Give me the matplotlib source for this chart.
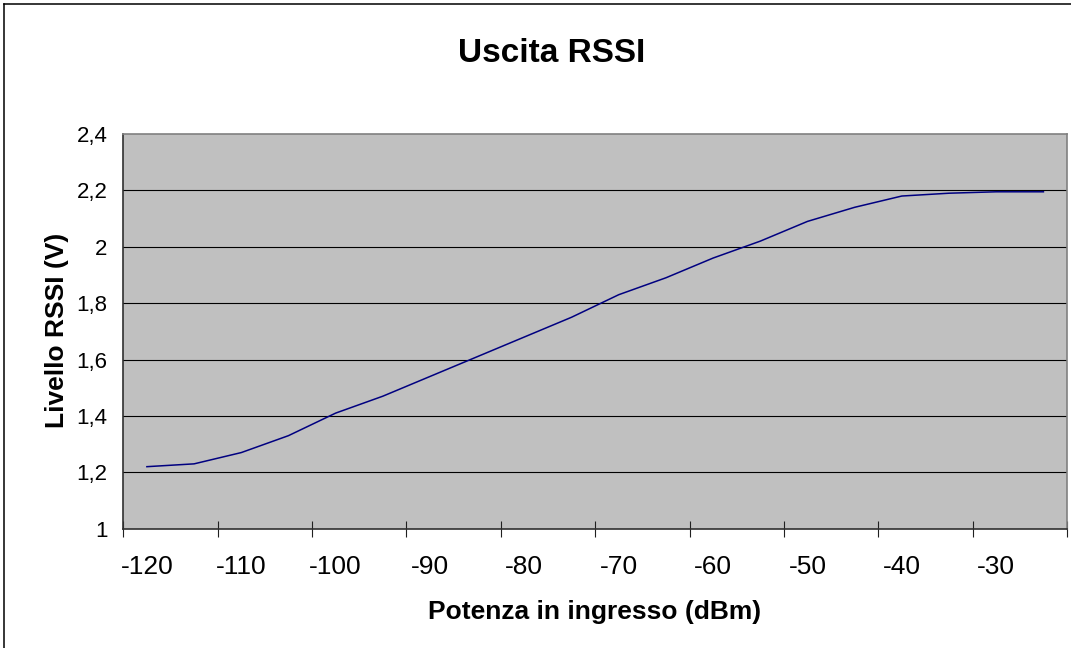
import matplotlib
matplotlib.use("Agg")
import matplotlib.pyplot as plt
from matplotlib.lines import Line2D
import numpy as np

plt.rcParams['font.family'] = ['Liberation Sans', 'DejaVu Sans']

power_dbm = [-120, -115, -110, -105, -100, -95, -90, -85, -80, -75,
             -70, -65, -60, -55, -50, -45, -40, -35, -30, -25]
rssi_v = [1.22, 1.23, 1.27, 1.33, 1.41, 1.47, 1.54, 1.61, 1.68, 1.75,
          1.83, 1.89, 1.96, 2.02, 2.09, 2.14, 2.18, 2.19, 2.195, 2.195]
x_tick_values = [-120, -110, -100, -90, -80, -70, -60, -50, -40, -30]
y_tick_values = [1.0, 1.2, 1.4, 1.6, 1.8, 2.0, 2.2, 2.4]
y_tick_labels = ["1", "1,2", "1,4", "1,6", "1,8", "2", "2,2", "2,4"]

W, H = 1071, 648
fig = plt.figure(figsize=(W / 100, H / 100), dpi=100)
fig.patch.set_facecolor('white')

ax = fig.add_axes([123.3 / W, 1 - 528.7 / H, (1067 - 123.3) / W, (528.7 - 134) / H])
ax.set_facecolor('#C0C0C0')

# horizontal gridlines (interior only)
for yv in y_tick_values[1:-1]:
    ax.axhline(yv, color='black', linewidth=0.8, zorder=1)

ax.plot(power_dbm, rssi_v, color='#000080', linewidth=1.1, zorder=3)

step = power_dbm[1] - power_dbm[0]
ax.set_xlim(power_dbm[0] - step / 2, power_dbm[-1] + step / 2)
ax.set_ylim(y_tick_values[0], y_tick_values[-1])

ax.set_yticks(y_tick_values)
ax.set_yticklabels(y_tick_labels, fontsize=16)
ax.tick_params(axis='y', length=0, pad=11.5)

ax.set_xticks(x_tick_values)
ax.set_xticklabels([str(v) for v in x_tick_values], fontsize=19)
ax.tick_params(axis='x', which='major', length=0, pad=19)
boundaries = np.arange(power_dbm[0] - step / 2, power_dbm[-1] + step, 2 * step)
ax.set_xticks(boundaries, minor=True)
ax.tick_params(axis='x', which='minor', direction='inout', length=12, width=0.8, color='#202020')

for s in ['left', 'bottom']:
    ax.spines[s].set_color('#303030')
    ax.spines[s].set_linewidth(1.2)
for s in ['top', 'right']:
    ax.spines[s].set_color('#808080')
    ax.spines[s].set_linewidth(1.2)

fig.text(552 / W, 1 - 53 / H, "Uscita RSSI", ha='center', va='center',
         fontsize=24, fontweight='bold')
fig.text(595 / W, 1 - 612 / H, "Potenza in ingresso (dBm)", ha='center', va='center',
         fontsize=19, fontweight='bold')
fig.text(57.3 / W, 1 - 330 / H, "Livello RSSI (V)", ha='center', va='center',
         fontsize=19, fontweight='bold', rotation=90)

# figure border (left and top visible)
fig.add_artist(Line2D([3.5 / W, 3.5 / W], [0, 1 - 3.5 / H], transform=fig.transFigure,
                      color='black', linewidth=1.1))
fig.add_artist(Line2D([3.5 / W, 1], [1 - 3.5 / H, 1 - 3.5 / H], transform=fig.transFigure,
                      color='black', linewidth=1.1))

fig.savefig("out.png", dpi=100)
